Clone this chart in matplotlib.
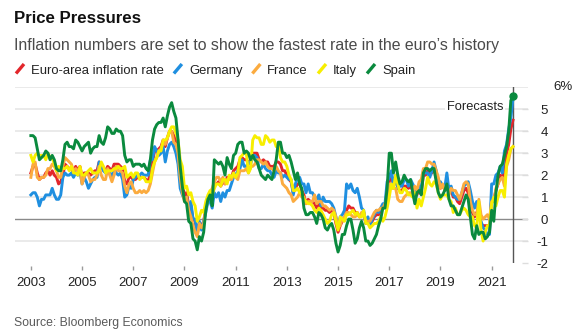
import numpy as np
import matplotlib.pyplot as plt
from matplotlib.lines import Line2D

plt.rcParams['font.family'] = ['Liberation Sans', 'DejaVu Sans']

# monthly HICP, % y/y, Jan 2003 - Nov 2021 (last month is a forecast)
euro_area = [
    2.1, 2.4, 2.5, 2.1, 1.8, 1.9, 1.9, 2.1, 2.2, 2.0, 2.2, 2.0,
    1.9, 1.6, 1.7, 2.0, 2.5, 2.4, 2.3, 2.3, 2.1, 2.4, 2.2, 2.4,
    1.9, 2.1, 2.1, 2.1, 2.0, 2.1, 2.2, 2.2, 2.6, 2.5, 2.3, 2.2,
    2.4, 2.3, 2.2, 2.5, 2.5, 2.5, 2.4, 2.3, 1.7, 1.6, 1.9, 1.9,
    1.8, 1.8, 1.9, 1.9, 1.9, 1.9, 1.8, 1.7, 2.1, 2.6, 3.1, 3.1,
    3.2, 3.3, 3.6, 3.3, 3.7, 4.0, 4.0, 3.8, 3.6, 3.2, 2.1, 1.6,
    1.1, 1.2, 0.6, 0.6, 0.0, -0.1, -0.6, -0.2, -0.3, -0.1, 0.5, 0.9,
    0.9, 0.8, 1.6, 1.6, 1.7, 1.5, 1.7, 1.6, 1.9, 1.9, 1.9, 2.2,
    2.3, 2.4, 2.7, 2.8, 2.7, 2.7, 2.6, 2.6, 3.0, 3.0, 3.0, 2.7,
    2.6, 2.7, 2.6, 2.6, 2.4, 2.4, 2.4, 2.6, 2.6, 2.5, 2.2, 2.2,
    2.0, 1.8, 1.7, 1.2, 1.4, 1.6, 1.6, 1.3, 1.1, 0.7, 0.9, 0.8,
    0.8, 0.7, 0.5, 0.7, 0.5, 0.5, 0.4, 0.4, 0.3, 0.4, 0.3, -0.2,
    -0.6, -0.3, -0.1, 0.0, 0.4, 0.6, 0.5, 0.5, 0.3, 0.3, 0.1, 0.2,
    0.3, -0.2, 0.0, -0.2, -0.1, 0.1, 0.2, 0.2, 0.4, 0.5, 0.6, 1.1,
    1.7, 2.0, 1.5, 1.9, 1.4, 1.3, 1.3, 1.5, 1.5, 1.4, 1.5, 1.3,
    1.3, 1.1, 1.4, 1.2, 2.0, 2.0, 2.2, 2.1, 2.1, 2.3, 1.9, 1.5,
    1.4, 1.5, 1.4, 1.7, 1.2, 1.3, 1.0, 1.0, 0.8, 0.7, 1.0, 1.3,
    1.4, 1.2, 0.7, 0.3, 0.1, 0.3, 0.4, -0.2, -0.3, -0.3, -0.3, -0.3,
    0.9, 0.9, 1.3, 1.6, 2.0, 1.9, 2.2, 3.0, 3.4, 4.1, 4.5,
]
germany = [
    1.1, 1.2, 1.2, 1.0, 0.6, 0.9, 0.9, 1.1, 1.1, 1.1, 1.4, 1.1,
    0.9, 0.9, 1.1, 1.9, 2.1, 2.0, 2.0, 2.1, 1.9, 2.1, 2.0, 2.2,
    1.6, 1.9, 1.7, 1.4, 1.6, 1.8, 1.9, 1.9, 2.6, 2.4, 2.2, 2.1,
    2.1, 2.1, 1.9, 2.3, 2.1, 2.0, 2.1, 1.8, 1.0, 1.1, 1.5, 1.4,
    1.8, 1.9, 2.0, 2.0, 2.1, 2.0, 2.0, 2.0, 2.7, 2.7, 3.3, 3.1,
    2.9, 3.0, 3.3, 2.6, 3.1, 3.4, 3.5, 3.3, 3.0, 2.5, 1.4, 1.1,
    0.9, 1.0, 0.4, 0.8, 0.0, 0.0, -0.7, -0.1, -0.5, -0.1, 0.3, 0.8,
    0.8, 0.5, 1.2, 1.0, 1.2, 0.8, 1.2, 1.0, 1.3, 1.3, 1.6, 1.9,
    2.0, 2.2, 2.3, 2.7, 2.4, 2.4, 2.6, 2.5, 2.9, 2.9, 2.8, 2.3,
    2.3, 2.5, 2.3, 2.2, 2.2, 2.0, 1.9, 2.2, 2.1, 2.1, 1.9, 2.0,
    1.9, 1.8, 1.8, 1.1, 1.6, 1.9, 1.9, 1.6, 1.6, 1.2, 1.6, 1.2,
    1.2, 1.0, 0.9, 1.1, 0.6, 1.0, 0.8, 0.8, 0.8, 0.7, 0.5, 0.1,
    -0.3, 0.1, 0.2, 0.4, 1.6, 1.4, 1.6, 1.3, 1.2, 1.4, 1.0, 0.5,
    0.4, -0.2, 0.1, -0.3, 0.0, 0.2, 0.4, 0.3, 0.5, 0.7, 0.7, 1.7,
    1.9, 2.2, 1.5, 2.0, 1.4, 1.5, 1.5, 1.8, 1.8, 1.5, 1.8, 1.6,
    1.4, 1.2, 1.5, 1.4, 2.2, 2.1, 2.1, 1.9, 2.2, 2.6, 2.2, 1.7,
    1.7, 1.5, 1.4, 2.1, 1.3, 1.5, 1.1, 1.0, 0.9, 0.9, 1.2, 1.5,
    1.6, 1.7, 1.3, 0.8, 0.5, 0.8, 0.0, -0.1, -0.4, -0.5, -0.7, -0.7,
    1.6, 1.6, 2.0, 2.1, 2.4, 2.1, 3.1, 3.4, 4.1, 4.6, 5.5,
]
france = [
    1.9, 2.5, 2.6, 1.9, 1.8, 1.9, 1.9, 2.0, 2.3, 2.3, 2.5, 2.4,
    2.2, 1.9, 1.9, 2.4, 2.8, 2.7, 2.6, 2.5, 2.2, 2.3, 2.2, 2.3,
    1.6, 1.9, 2.1, 2.0, 1.7, 1.8, 1.8, 2.0, 2.4, 2.0, 1.8, 1.8,
    2.3, 2.0, 1.7, 2.0, 2.4, 2.2, 2.2, 2.1, 1.5, 1.2, 1.6, 1.7,
    1.4, 1.2, 1.2, 1.3, 1.2, 1.3, 1.2, 1.3, 1.6, 2.1, 2.6, 2.8,
    3.1, 3.2, 3.5, 3.4, 3.7, 4.0, 4.0, 3.5, 3.4, 3.0, 1.9, 1.2,
    0.8, 1.0, 0.4, 0.1, -0.3, -0.6, -0.8, -0.2, -0.4, -0.2, 0.5, 1.0,
    1.2, 1.4, 1.7, 1.9, 1.9, 1.7, 1.9, 1.6, 1.8, 1.8, 1.8, 2.0,
    1.9, 1.8, 2.2, 2.2, 2.2, 2.3, 2.1, 2.4, 2.4, 2.5, 2.7, 2.7,
    2.6, 2.5, 2.6, 2.4, 2.3, 2.3, 2.2, 2.4, 2.2, 2.1, 1.6, 1.5,
    1.4, 1.2, 1.1, 0.8, 0.9, 1.0, 1.2, 1.0, 1.0, 0.7, 0.8, 0.8,
    0.8, 1.1, 0.7, 0.8, 0.8, 0.6, 0.6, 0.5, 0.4, 0.5, 0.4, 0.1,
    -0.4, -0.3, 0.0, 0.1, 0.3, 0.3, 0.2, 0.1, 0.1, 0.2, 0.1, 0.3,
    0.3, -0.1, -0.1, -0.1, 0.1, 0.3, 0.4, 0.4, 0.5, 0.5, 0.7, 0.8,
    1.6, 1.4, 1.4, 1.4, 0.9, 0.8, 0.8, 1.0, 1.1, 1.2, 1.2, 1.2,
    1.5, 1.3, 1.7, 1.8, 2.3, 2.3, 2.6, 2.6, 2.5, 2.5, 2.2, 1.9,
    1.4, 1.6, 1.3, 1.5, 1.1, 1.4, 1.3, 1.3, 1.1, 0.9, 1.2, 1.6,
    1.7, 1.6, 0.8, 0.4, 0.2, 0.2, 0.9, 0.2, 0.0, 0.1, 0.2, 0.0,
    0.8, 0.8, 1.4, 1.6, 1.8, 1.9, 1.5, 2.4, 2.7, 3.2, 3.3,
]
italy = [
    2.9, 2.6, 2.9, 3.0, 2.9, 2.9, 2.9, 2.7, 3.0, 2.8, 2.8, 2.5,
    2.2, 2.4, 2.3, 2.3, 2.3, 2.4, 2.2, 2.4, 2.1, 2.1, 2.0, 2.4,
    2.0, 2.0, 2.1, 2.2, 2.3, 2.1, 2.1, 2.1, 2.2, 2.6, 2.4, 2.1,
    2.2, 2.2, 2.2, 2.3, 2.3, 2.4, 2.3, 2.3, 2.4, 1.9, 2.0, 2.1,
    1.9, 2.1, 2.1, 1.8, 1.9, 1.9, 1.7, 1.7, 1.7, 2.3, 2.6, 2.8,
    3.1, 3.1, 3.6, 3.6, 3.7, 4.0, 4.2, 4.2, 3.9, 3.6, 2.7, 2.4,
    1.4, 1.5, 1.1, 1.2, 0.8, 0.6, -0.1, 0.1, 0.4, 0.3, 0.8, 1.1,
    1.3, 1.1, 1.4, 1.6, 1.6, 1.5, 1.8, 1.8, 1.6, 2.0, 1.9, 2.1,
    1.9, 2.1, 2.8, 2.9, 3.0, 3.0, 2.1, 2.3, 3.6, 3.8, 3.7, 3.7,
    3.4, 3.4, 3.8, 3.7, 3.5, 3.6, 3.6, 3.3, 3.4, 2.8, 2.6, 2.6,
    2.4, 2.0, 1.8, 1.3, 1.3, 1.4, 1.2, 1.2, 0.9, 0.8, 0.7, 0.7,
    0.6, 0.4, 0.3, 0.5, 0.4, 0.2, 0.0, -0.2, -0.1, 0.2, 0.3, -0.1,
    -0.5, 0.1, 0.0, -0.1, 0.2, 0.2, 0.3, 0.4, 0.2, 0.3, 0.1, 0.1,
    0.4, -0.2, -0.2, -0.4, -0.3, -0.2, -0.2, -0.1, 0.1, -0.1, 0.1, 0.5,
    1.0, 1.6, 1.4, 2.0, 1.6, 1.2, 1.2, 1.4, 1.3, 1.1, 1.1, 1.0,
    1.2, 0.5, 0.9, 0.6, 1.0, 1.4, 1.9, 1.6, 1.5, 1.7, 1.6, 1.2,
    0.9, 1.1, 1.1, 1.1, 0.9, 0.8, 0.3, 0.5, 0.2, 0.2, 0.4, 0.5,
    0.4, 0.2, 0.1, 0.1, -0.3, -0.4, 0.8, -0.5, -1.0, -0.6, -0.3, -0.3,
    0.7, 1.0, 0.6, 1.0, 1.3, 1.3, 1.0, 2.5, 2.9, 3.2, 3.3,
]
spain = [
    3.8, 3.8, 3.7, 3.2, 2.7, 2.8, 2.9, 3.1, 3.0, 2.7, 2.9, 2.7,
    2.3, 2.2, 2.2, 2.7, 3.4, 3.5, 3.3, 3.3, 3.2, 3.6, 3.5, 3.3,
    3.1, 3.3, 3.4, 3.5, 3.0, 3.2, 3.3, 3.3, 3.8, 3.5, 3.4, 3.7,
    4.2, 4.1, 3.9, 3.9, 4.1, 4.0, 4.0, 3.8, 2.9, 2.6, 2.7, 2.7,
    2.4, 2.5, 2.5, 2.5, 2.4, 2.5, 2.3, 2.2, 2.7, 3.6, 4.1, 4.3,
    4.4, 4.4, 4.6, 4.2, 4.7, 5.1, 5.3, 4.9, 4.6, 3.6, 2.4, 1.5,
    0.8, 0.7, -0.1, -0.2, -0.9, -1.0, -1.4, -0.8, -1.0, -0.6, 0.4, 0.9,
    1.1, 0.6, 2.7, 2.6, 2.5, 2.6, 2.4, 2.0, 2.8, 2.5, 2.3, 2.9,
    3.0, 3.4, 3.5, 3.5, 3.0, 3.1, 3.0, 2.7, 2.9, 2.7, 2.6, 2.3,
    2.0, 1.9, 1.8, 2.0, 1.9, 1.8, 2.2, 2.7, 3.5, 3.5, 3.0, 3.0,
    2.8, 2.9, 2.6, 2.2, 1.8, 2.1, 1.6, 1.4, 0.5, 0.2, 0.2, 0.3,
    0.3, 0.1, -0.2, 0.3, 0.2, 0.0, -0.4, -0.5, -0.3, -0.2, -0.5, -1.1,
    -1.5, -1.2, -0.7, -0.7, -0.3, 0.0, 0.0, -0.5, -1.1, -0.9, -0.4, -0.1,
    -0.4, -1.0, -1.0, -1.2, -1.1, -0.9, -0.7, -0.3, 0.0, 0.5, 0.5, 1.4,
    3.0, 3.0, 2.1, 2.6, 2.0, 1.6, 1.7, 2.0, 1.8, 1.7, 1.8, 1.2,
    0.7, 1.2, 1.3, 1.1, 2.1, 2.3, 2.3, 2.2, 2.3, 2.3, 1.7, 1.2,
    1.0, 1.1, 1.3, 1.6, 0.9, 0.6, 0.6, 0.4, 0.2, 0.2, 0.5, 0.8,
    1.1, 0.9, 0.1, -0.7, -0.9, -0.3, -0.7, -0.6, -0.6, -0.9, -0.8, -0.6,
    0.4, -0.1, 1.2, 2.0, 2.4, 2.5, 2.9, 3.3, 4.0, 5.4, 5.6,
]

series_names = ['Euro-area inflation rate', 'Germany', 'France', 'Italy', 'Spain']
year_ticks = list(range(2003, 2022, 2))
y_ticks = [-2, -1, 0, 1, 2, 3, 4, 5]

colors = ['#e2262b', '#1f8fe0', '#fbab3f', '#f7ee00', '#0a8a3e']
W, H = 580, 336

months = 2003 + np.arange(len(euro_area)) / 12

fig = plt.figure(figsize=(W / 100, H / 100), dpi=100)
ax = fig.add_axes([15 / W, 1 - 263 / H, 513 / W, (263 - 87.3) / H])

# grid
for v in range(-1, 7):
    if v == 0:
        continue
    ax.axhline(v, color='#e4e4e4', lw=1.1, zorder=0)
ax.axhline(0, color='#8a8a8a', lw=1.0, zorder=1)

for vals, c in zip([euro_area, germany, france, italy, spain], colors):
    ax.plot(months, vals, color=c, lw=2.1, solid_joinstyle='round', zorder=3)

# forecast marker
ax.axvline(months[-1], color='#555555', lw=1.0, zorder=2)
ax.plot(months[-1], spain[-1], 'o', color=colors[-1], ms=5, zorder=5, clip_on=False)
ax.text(months[-1] - 0.38, 5.1, 'Forecasts', ha='right', va='center', fontsize=9.3,
        color='#222222', zorder=4,
        bbox=dict(facecolor='white', edgecolor='none', pad=1.0))

ax.set_xlim(2002.38, 2022.42)
ax.set_ylim(-2, 6)

for s in ax.spines.values():
    s.set_visible(False)
ax.spines['bottom'].set_position(('outward', 2.2))

ax.set_xticks(year_ticks)
ax.set_xticklabels([str(y) for y in year_ticks], fontsize=9.5, color='#222222')
ax.tick_params(axis='x', length=3, width=1, color='#9a9a9a', pad=5)

ax.yaxis.tick_right()
ax.set_yticks(y_ticks)
ax.set_yticklabels([str(v) for v in y_ticks], fontsize=9.5, color='#222222')
ax.tick_params(axis='y', direction='in', length=4.5, width=1, color='#dddddd', pad=14.4)
for lab in ax.get_yticklabels():
    lab.set_horizontalalignment('right')
ax.text(1 + 25 / 513, 6, '6%', transform=ax.get_yaxis_transform(), ha='left',
        va='center', fontsize=9.5, color='#222222')

# titles
fig.text(14 / W, 1 - 23 / H, 'Price Pressures', fontsize=12.1, fontweight='bold',
         color='#111111', va='baseline')
fig.text(14 / W, 1 - 50 / H,
         'Inflation numbers are set to show the fastest rate in the euro\u2019s history',
         fontsize=11.4, color='#4a4a4a', va='baseline')

# legend row
renderer = fig.canvas.get_renderer()
x = 16
yb = 74
for name, c in zip(series_names, colors):
    fig.add_artist(Line2D([x / W, (x + 8) / W], [1 - (yb - 0.5) / H, 1 - (yb - 10) / H],
                          transform=fig.transFigure, color=c, lw=2.4,
                          solid_capstyle='butt'))
    t = fig.text((x + 15) / W, 1 - yb / H, name, fontsize=9.4, color='#222222',
                 va='baseline')
    bb = t.get_window_extent(renderer)
    x = bb.x1 + 10

fig.text(14 / W, 1 - 326 / H, 'Source: Bloomberg Economics', fontsize=8.8,
         color='#5a5a5a', va='baseline')

fig.savefig('out.png', dpi=100)
